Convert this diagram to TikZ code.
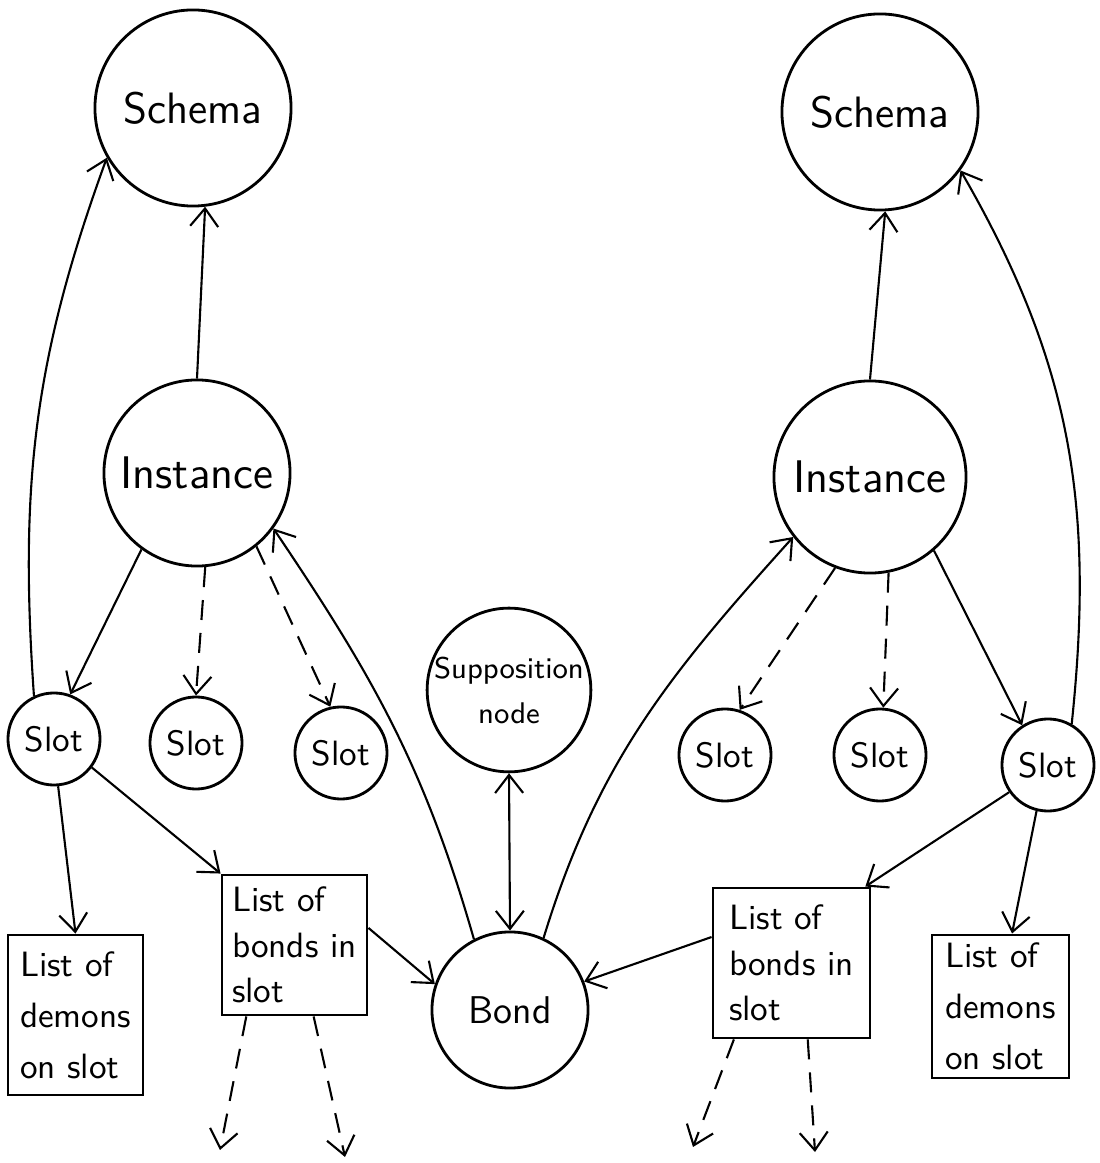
\documentclass[tikz,border=0pt]{standalone}
\usetikzlibrary{arrows.meta}

\begin{document}
\begin{tikzpicture}[
    x=0.01cm, y=0.01cm,
    arrow/.style={-{Straight Barb[length=1.8mm, width=2.8mm]}, line width=0.6pt},
    twoarrow/.style={{Straight Barb[length=1.8mm, width=2.8mm]}-{Straight Barb[length=1.8mm, width=2.8mm]}, line width=0.6pt},
    dasharrow/.style={arrow, dash pattern=on 2mm off 1.3mm},
    bubble/.style={circle, draw, line width=0.8pt, inner sep=0pt, align=center},
    listbox/.style={rectangle, draw, line width=0.8pt, inner sep=2pt, align=left,
        font=\sffamily\fontsize{10}{13}\selectfont},
    ]
        \useasboundingbox (0, 0) rectangle (1100, 1163);

        \node[bubble, minimum size=1.96cm, font=\sffamily\fontsize{12.5}{14}\selectfont] (schemaL) at (193, 1055) {Schema};
        \node[bubble, minimum size=1.96cm, font=\sffamily\fontsize{12.5}{14}\selectfont] (schemaR) at (880, 1051) {Schema};
        \node[bubble, minimum size=1.86cm, font=\sffamily\fontsize{13}{15}\selectfont] (instL) at (197, 690) {Instance};
        \node[bubble, minimum size=1.92cm, font=\sffamily\fontsize{13}{15}\selectfont] (instR) at (870, 686) {Instance};

        \node[bubble, minimum size=0.92cm, font=\sffamily\fontsize{10}{12}\selectfont] (slotL1) at (54, 424) {Slot};
        \node[bubble, minimum size=0.92cm, font=\sffamily\fontsize{10}{12}\selectfont] (slotL2) at (196, 420) {Slot};
        \node[bubble, minimum size=0.92cm, font=\sffamily\fontsize{10}{12}\selectfont] (slotL3) at (341, 410) {Slot};
        \node[bubble, minimum size=0.92cm, font=\sffamily\fontsize{10}{12}\selectfont] (slotR1) at (725, 408) {Slot};
        \node[bubble, minimum size=0.92cm, font=\sffamily\fontsize{10}{12}\selectfont] (slotR2) at (880, 408) {Slot};
        \node[bubble, minimum size=0.92cm, font=\sffamily\fontsize{10}{12}\selectfont] (slotR3) at (1048, 398) {Slot};

        \node[bubble, minimum size=1.52cm, font=\sffamily\fontsize{8.5}{12.8}\selectfont] (supp) at (509, 473) {Supposition\\node};
        \node[bubble, minimum size=1.56cm, font=\sffamily\fontsize{11}{13}\selectfont] (bond) at (510, 153) {Bond};

        \node[listbox, minimum width=1.35cm, minimum height=1.6cm, font=\sffamily\fontsize{10}{14.5}\selectfont] (demL) at (75.5, 148) {List of\\demons\\on slot};
        \node[listbox, minimum width=1.45cm, minimum height=1.4cm] (bndL) at (294.5, 218) {List of\\bonds in\\slot};
        \node[listbox, minimum width=1.57cm, minimum height=1.5cm] (bndR) at (791.5, 200) {List of\\bonds in\\slot};
        \node[listbox, minimum width=1.37cm, minimum height=1.43cm, font=\sffamily\fontsize{10}{14.5}\selectfont] (demR) at (1000.5, 156.5) {List of\\demons\\on slot};

        \coordinate (offL1) at (220, 13);
        \coordinate (offL2) at (345, 6);
        \coordinate (offR1) at (693, 16);
        \coordinate (offR2) at (815, 11);

        \draw[arrow] (instL.north) -- (schemaL.-83);
        \draw[arrow] (slotL1.115) to[out=94, in=250] (schemaL.210);
        \draw[arrow] (instL.234) -- (slotL1.70);
        \draw[dasharrow] (instL.-85) -- (slotL2.north);
        \draw[dasharrow] (instL.-51) -- (slotL3.103);
        \draw[arrow] (bond.117) to[out=106, in=-56] (instL.-36);
        \draw[arrow] (slotL1.-85) -- (demL.north);
        \draw[arrow] (slotL1.-37) -- (bndL.north west);
        \draw[arrow] (bndL.13) -- (bond.161);
        \draw[dasharrow] (bndL.-124) -- (offL1);
        \draw[dasharrow] (bndL.-75) -- (offL2);

        \draw[twoarrow] (supp.south) -- (bond.north);

        \draw[arrow] (bond.65) to[out=73, in=228] (instR.218);
        \draw[arrow] (instR.north) -- (schemaR.-87);
        \draw[arrow] (slotR3.60) to[out=84, in=-60] (schemaR.-36);
        \draw[dasharrow] (instR.-111) -- (slotR1.72);
        \draw[dasharrow] (instR.-79) -- (slotR2.86);
        \draw[arrow] (instR.-49) -- (slotR3.123);
        \draw[arrow] (slotR3.215) -- (bndR.46);
        \draw[arrow] (slotR3.-104) -- (demR.81);
        \draw[arrow] (bndR.162) -- (bond.21);
        \draw[dasharrow] (bndR.-127) -- (offR1);
        \draw[dasharrow] (bndR.-78) -- (offR2);
\end{tikzpicture}
\end{document}
